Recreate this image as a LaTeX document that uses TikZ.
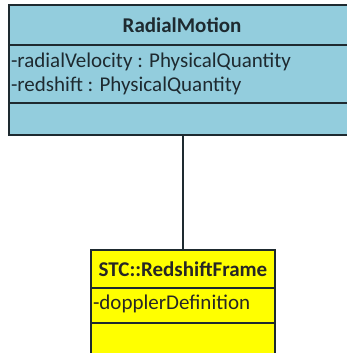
\documentclass[tikz,border=0pt]{standalone}
\usepackage{fontspec}
\setmainfont{Carlito}
\usepackage{tikz}
\usetikzlibrary{positioning}
\definecolor{classblue}{HTML}{93CDDD}
\definecolor{classyellow}{HTML}{FFFF00}
\definecolor{edgegray}{HTML}{1E2A30}
\tikzset{
    x=1pt, y=-1pt, % pixel-like units
    every node/.style={inner sep=0pt, outer sep=0pt, font=\fontsize{21}{24}\selectfont},
    part/.style={draw=edgegray, line width=1.8pt, anchor=north west}, % one compartment of a class box
    bluepart/.style={part, fill=classblue},
    yellowpart/.style={part, fill=classyellow},
    link/.style={draw=edgegray, line width=1.8pt},
}

\begin{document}
\begin{tikzpicture}
            \useasboundingbox (0,0) rectangle (347,353);
            \fill[white] (0,0) rectangle (347,353);

            % RadialMotion
            \node[bluepart, minimum width=345pt, minimum height=40pt] at (9,5) (rtitle) {};
            \node[bluepart, minimum width=345pt, minimum height=58pt] at (9,45) (rattr) {};
            \node[bluepart, minimum width=345pt, minimum height=32pt] at (9,103) (rops) {};
            \node[font=\bfseries\fontsize{21}{24}\selectfont, text=edgegray] at (182,25) {RadialMotion};
            \node[anchor=west, text=edgegray, align=left] at (11,74)
                {-radialVelocity : PhysicalQuantity\\-redshift : PhysicalQuantity};

            % STC::RedshiftFrame
            \node[yellowpart, minimum width=184pt, minimum height=38pt] at (91,250) (ytitle) {};
            \node[yellowpart, minimum width=184pt, minimum height=35pt] at (91,288) (yattr) {};
            \node[yellowpart, minimum width=184pt, minimum height=40pt] at (91,323) (yops) {};
            \node[font=\bfseries\fontsize{21}{24}\selectfont, text=black!85] at (ytitle.center) {STC::RedshiftFrame};
            \node[anchor=west, text=black!85] at (93,304) {-dopplerDefinition};

            \draw[link] (ytitle.north) -- (ytitle.north |- rops.south);
        \end{tikzpicture}
\end{document}
